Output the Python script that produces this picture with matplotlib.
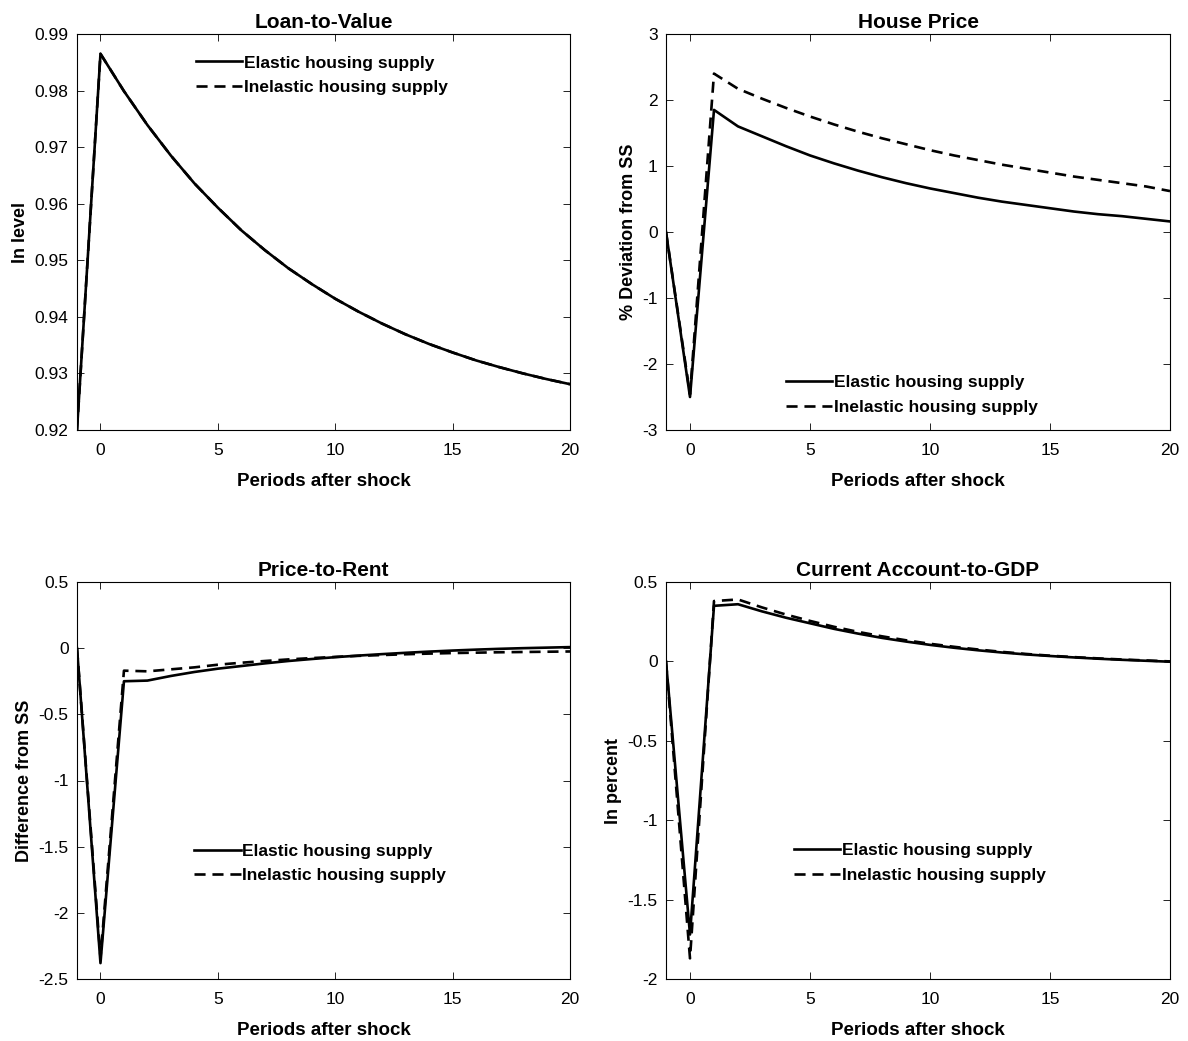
import matplotlib
matplotlib.use("Agg")
import matplotlib.pyplot as plt

plt.rcParams['font.family'] = ['Liberation Sans', 'DejaVu Sans']

periods = list(range(-1, 21))

ltv_elastic = [0.920, 0.9865, 0.9799, 0.9739, 0.9685, 0.9636, 0.9593, 0.9553, 0.9518,
               0.9486, 0.9458, 0.9432, 0.9409, 0.9388, 0.9369, 0.9352, 0.9337, 0.9323,
               0.9311, 0.9300, 0.9290, 0.9281]
ltv_inelastic = list(ltv_elastic)

hp_elastic = [0.0, -2.50, 1.85, 1.60, 1.45, 1.30, 1.16, 1.04, 0.93, 0.83, 0.74, 0.66,
              0.59, 0.52, 0.46, 0.41, 0.36, 0.31, 0.27, 0.24, 0.20, 0.16]
hp_inelastic = [0.0, -2.46, 2.40, 2.17, 2.02, 1.88, 1.75, 1.63, 1.52, 1.42, 1.33, 1.24,
                1.16, 1.09, 1.02, 0.96, 0.90, 0.84, 0.79, 0.74, 0.69, 0.62]

pr_elastic = [0.0, -2.38, -0.25, -0.245, -0.21, -0.18, -0.155, -0.135, -0.115, -0.097,
              -0.082, -0.068, -0.056, -0.045, -0.035, -0.026, -0.018, -0.011, -0.005,
              0.0, 0.004, 0.008]
pr_inelastic = [0.0, -2.34, -0.17, -0.175, -0.16, -0.145, -0.125, -0.11, -0.097, -0.085,
                -0.075, -0.066, -0.058, -0.052, -0.046, -0.041, -0.037, -0.034, -0.031,
                -0.029, -0.027, -0.025]

ca_elastic = [0.0, -1.72, 0.35, 0.36, 0.315, 0.275, 0.24, 0.205, 0.175, 0.148, 0.125,
              0.104, 0.086, 0.07, 0.056, 0.044, 0.034, 0.025, 0.017, 0.01, 0.004, -0.002]
ca_inelastic = [0.0, -1.87, 0.38, 0.39, 0.34, 0.295, 0.255, 0.218, 0.186, 0.158, 0.133,
                0.111, 0.092, 0.075, 0.06, 0.047, 0.036, 0.027, 0.019, 0.012, 0.006, 0.0]

titles = ["Loan-to-Value", "House Price", "Price-to-Rent", "Current Account-to-GDP"]
ylabels = ["In level", "% Deviation from SS", "Difference from SS", "In percent"]
labels = ["Elastic housing supply", "Inelastic housing supply"]

W, H = 1188, 1041
fig = plt.figure(figsize=(W / 100, H / 100), dpi=100)


def box(x0, y0, x1, y1):
    return [x0 / W, 1 - y1 / H, (x1 - x0) / W, (y1 - y0) / H]


panels = [
    dict(rect=box(77, 34, 570, 430), el=ltv_elastic, inel=ltv_inelastic,
         ylim=(0.92, 0.99), yticks=[0.92, 0.93, 0.94, 0.95, 0.96, 0.97, 0.98, 0.99],
         yticklabels=["0.92", "0.93", "0.94", "0.95", "0.96", "0.97", "0.98", "0.99"],
         leg=(0.223, 0.968)),
    dict(rect=box(666, 34, 1170, 430), el=hp_elastic, inel=hp_inelastic,
         ylim=(-3, 3), yticks=[-3, -2, -1, 0, 1, 2, 3],
         yticklabels=["-3", "-2", "-1", "0", "1", "2", "3"],
         leg=(0.220, 0.160)),
    dict(rect=box(77, 582, 570, 979), el=pr_elastic, inel=pr_inelastic,
         ylim=(-2.5, 0.5), yticks=[-2.5, -2, -1.5, -1, -0.5, 0, 0.5],
         yticklabels=["-2.5", "-2", "-1.5", "-1", "-0.5", "0", "0.5"],
         leg=(0.219, 0.363)),
    dict(rect=box(666, 582, 1170, 979), el=ca_elastic, inel=ca_inelastic,
         ylim=(-2, 0.5), yticks=[-2, -1.5, -1, -0.5, 0, 0.5],
         yticklabels=["-2", "-1.5", "-1", "-0.5", "0", "0.5"],
         leg=(0.236, 0.365)),
]

for i, p in enumerate(panels):
    ax = fig.add_axes(p["rect"])
    ax.plot(periods, p["inel"], color="black", lw=1.9, ls=(0, (4.2, 2.6)), label=labels[1])
    ax.plot(periods, p["el"], color="black", lw=1.9, ls="-", label=labels[0])
    ax.set_xlim(-1, 20)
    ax.set_ylim(*p["ylim"])
    ax.set_xticks([0, 5, 10, 15, 20])
    ax.set_yticks(p["yticks"])
    ax.set_yticklabels(p["yticklabels"])
    ax.tick_params(direction="in", top=True, right=True, length=5, width=0.6,
                   labelsize=12.5, pad=6)
    ax.tick_params(axis="x", pad=9)
    for s in ax.spines.values():
        s.set_linewidth(0.8)
    ax.set_title(titles[i], fontsize=15, fontweight="bold", pad=4)
    ax.set_xlabel("Periods after shock", fontsize=13.5, fontweight="bold", labelpad=11)
    ax.set_ylabel(ylabels[i], fontsize=13, fontweight="bold", labelpad=4)
    handles, labs = ax.get_legend_handles_labels()
    ax.legend(handles[::-1], labs[::-1], loc="upper left", bbox_to_anchor=p["leg"],
              frameon=False, borderpad=0, handlelength=2.7, handletextpad=0.1,
              labelspacing=0.55, prop={"weight": "bold", "size": 12.5})

fig.savefig("out.png", dpi=100)
